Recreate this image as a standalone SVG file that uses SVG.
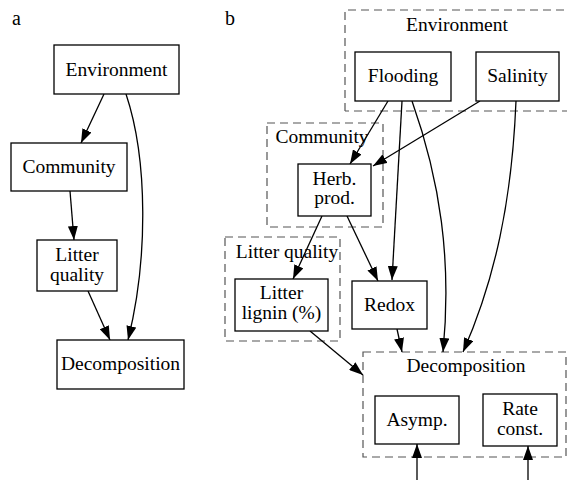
<svg xmlns="http://www.w3.org/2000/svg" width="567" height="480" viewBox="0 0 567 480">
<style>
.box{fill:#fff;stroke:#000;stroke-width:1.3}
.cl{fill:none;stroke:#555;stroke-width:1.2;stroke-dasharray:8,5}
.e{fill:none;stroke:#000;stroke-width:1.3;marker-end:url(#ah)}
text{font-family:'Liberation Serif','DejaVu Serif',serif;font-size:19.5px;fill:#000;text-anchor:middle}
.lab{font-size:20px;text-anchor:start}
</style>
<defs>
<marker id="ah" markerUnits="userSpaceOnUse" markerWidth="14" markerHeight="10" refX="14" refY="5" orient="auto">
<path d="M0,0 L14,5 L0,10 z" fill="#000"/>
</marker>
</defs>
<rect width="567" height="480" fill="#fff"/>
<g font-family="Liberation Serif, DejaVu Serif, serif">
<text class="lab" x="12" y="25">a</text>
<text class="lab" x="225" y="25">b</text>
<g id="clusters">
<path class="cl" d="M345,111 L345,10 L570,10 M570,111 L345,111"/>
<text x="457" y="31">Environment</text>
<rect class="cl" x="267" y="123" width="116" height="104"/>
<text x="322" y="143">Community</text>
<rect class="cl" x="225" y="237" width="115" height="104"/>
<text x="287" y="258">Litter quality</text>
<rect class="cl" x="363" y="352" width="203" height="105"/>
<text x="466" y="372">Decomposition</text>
</g>
<g id="edges">
<path class="e" d="M104,94 L81,143"/>
<path class="e" d="M126,94 C148,160 148,260 128,340"/>
<path class="e" d="M70,191 L74,240"/>
<path class="e" d="M88,291 L110,340"/>
<path class="e" d="M388,101 L350,164"/>
<path class="e" d="M480,101 L373,166"/>
<path class="e" d="M402,101 L392,280"/>
<path class="e" d="M412,101 C440,180 452,260 443,352"/>
<path class="e" d="M516,101 C512,200 495,280 463,352"/>
<path class="e" d="M322,216 L293,279"/>
<path class="e" d="M347,216 L378,281"/>
<path class="e" d="M397,329 L402,352"/>
<path class="e" d="M310,331 L363,375"/>
<path class="e" d="M417,480 L417,444"/>
<path class="e" d="M528,480 L528,446"/>
</g>
<g id="a-env"><rect class="box" x="54" y="45" width="125" height="49"/><text x="116.5" y="76">Environment</text></g>
<g id="a-com"><rect class="box" x="11" y="143" width="116" height="48"/><text x="69" y="173">Community</text></g>
<g id="a-lit"><rect class="box" x="37" y="240" width="80" height="51"/><text x="77" y="261">Litter</text><text x="77" y="281">quality</text></g>
<g id="a-dec"><rect class="box" x="57" y="340" width="127" height="49"/><text x="120.5" y="370">Decomposition</text></g>
<g id="b-flood"><rect class="box" x="355" y="52" width="96" height="49"/><text x="403" y="82">Flooding</text></g>
<g id="b-sal"><rect class="box" x="476" y="52" width="83" height="49"/><text x="517.5" y="82">Salinity</text></g>
<g id="b-herb"><rect class="box" x="298" y="164" width="73" height="52"/><text x="334.5" y="185">Herb.</text><text x="334.5" y="204">prod.</text></g>
<g id="b-lig"><rect class="box" x="235" y="279" width="93" height="52"/><text x="281.5" y="299">Litter</text><text x="281.5" y="319">lignin (%)</text></g>
<g id="b-red"><rect class="box" x="352" y="281" width="75" height="48"/><text x="389.5" y="311">Redox</text></g>
<g id="b-asy"><rect class="box" x="375" y="396" width="84" height="48"/><text x="417" y="426">Asymp.</text></g>
<g id="b-rate"><rect class="box" x="483" y="394" width="74" height="52"/><text x="520" y="415">Rate</text><text x="520" y="435">const.</text></g>
</g>
</svg>
